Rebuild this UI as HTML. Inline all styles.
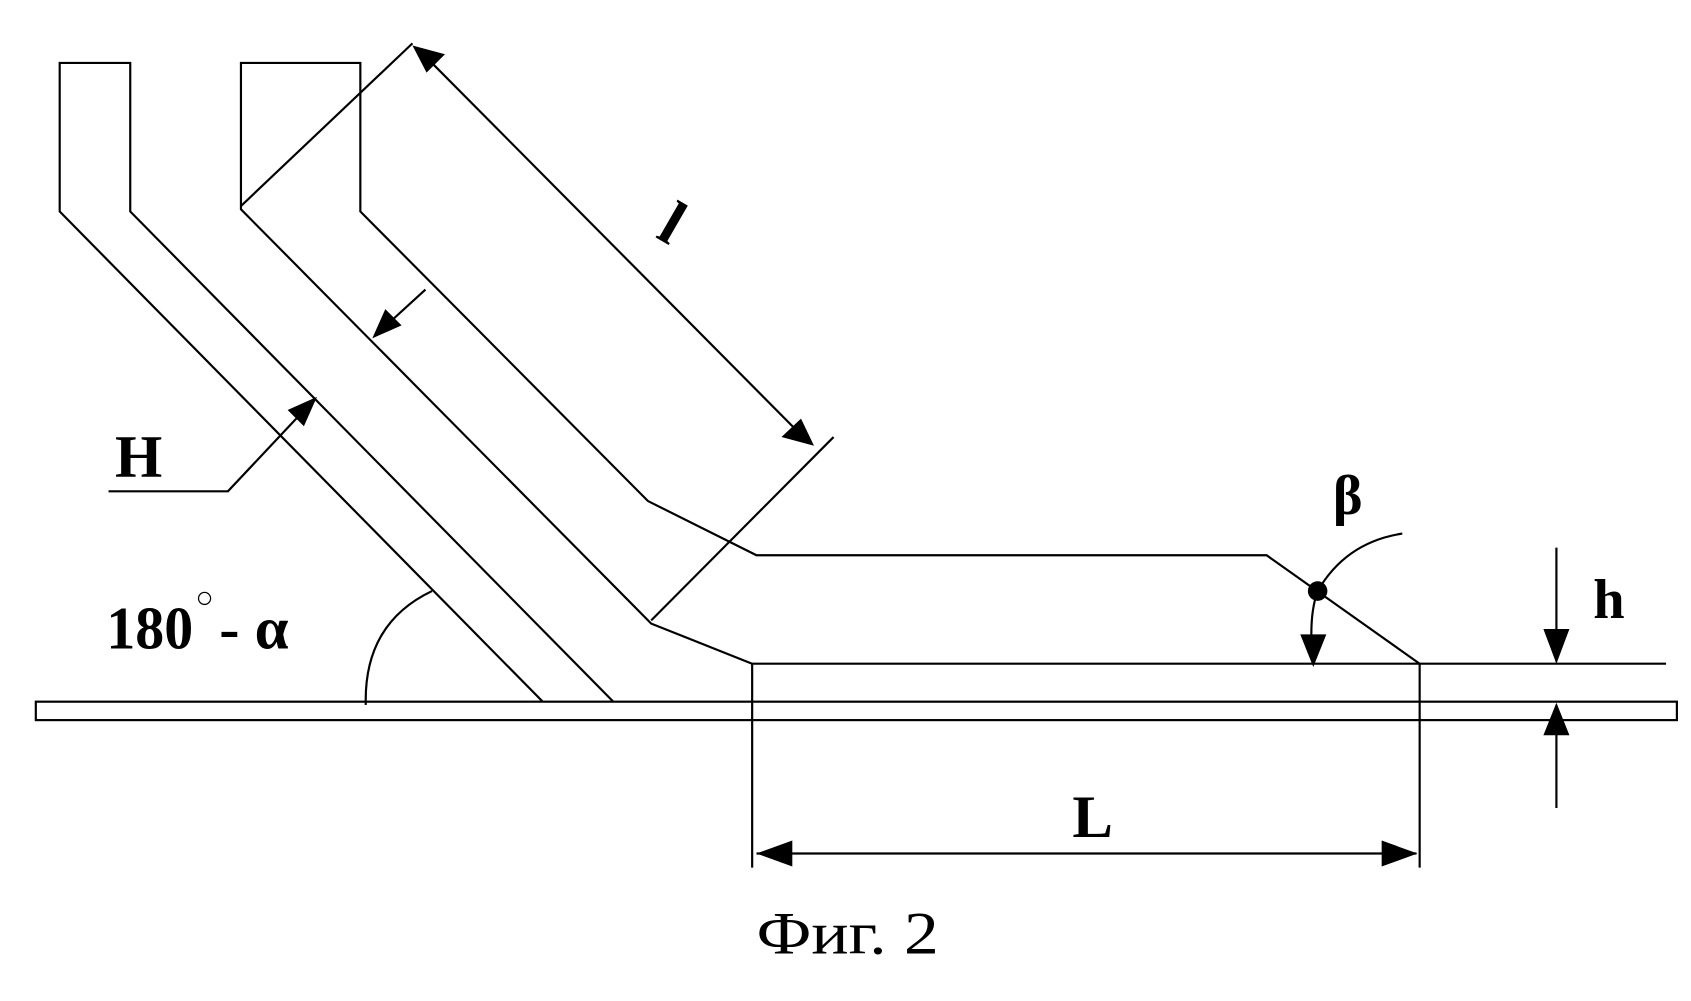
<!DOCTYPE html>
<html><head><meta charset="utf-8"><style>html,body{margin:0;padding:0;background:#fff}svg{display:block}</style></head>
<body>
<svg width="1691" height="1001" viewBox="0 0 1558 923" preserveAspectRatio="none" xmlns="http://www.w3.org/2000/svg">
<g fill="none" stroke="#000" stroke-width="2">
<polyline points="500,647 55,195 55,58 120,58 120,195 565,647"/>
<polyline points="693,612 600,575 222,193 222,58 332,58 332,195 597,462 697,512 1167,512 1308,612"/>
<rect x="33" y="647" width="1512" height="17"/>
<line x1="693" y1="612" x2="1535" y2="612"/>
<line x1="222" y1="190" x2="380" y2="40"/>
<line x1="600" y1="572" x2="768" y2="403"/>
<line x1="385" y1="45" x2="745" y2="408"/>
<line x1="345" y1="310" x2="392" y2="267"/>
<polyline points="100,453 210,453 288,370"/>
<path d="M337,650 Q335,575 398,545"/>
<path d="M1214,545 Q1240,500 1292,492"/>
<path d="M1214,545 Q1205,570 1210,612"/>
<line x1="1434" y1="505" x2="1434" y2="610"/>
<line x1="1434" y1="650" x2="1434" y2="745"/>
<line x1="693" y1="612" x2="693" y2="800"/>
<line x1="1308" y1="612" x2="1308" y2="800"/>
<line x1="697" y1="787" x2="1305" y2="787"/>
</g>
<g fill="#000">
<polygon points="380,42 410,50 393,67"/>
<polygon points="750,411 720,403 738,386"/>
<polygon points="343,312 355,285 370,300"/>
<polygon points="292,366 280,393 265,378"/>
<circle cx="1214" cy="545" r="9"/>
<polygon points="1210,615 1198,585 1222,585"/>
<polygon points="1434,612 1422,580 1446,580"/>
<polygon points="1434,648 1422,678 1446,678"/>
<polygon points="697,787 730,775 730,799"/>
<polygon points="1306,787 1273,775 1273,799"/>
</g>
<g font-family="Liberation Serif, serif" font-weight="bold" fill="#000">
<text x="612" y="225" font-size="58" transform="rotate(30 620 205)">l</text>
<text x="106" y="440" font-size="56">H</text>
<text x="98" y="598" font-size="56" textLength="80" lengthAdjust="spacingAndGlyphs">180</text>
<text x="180" y="560" font-size="28" font-weight="normal">○</text>
<text x="202" y="598" font-size="56">- α</text>
<text x="1228" y="474" font-size="52">β</text>
<text x="1468" y="570" font-size="52">h</text>
<text x="988" y="772" font-size="56">L</text>
</g>
<text x="697" y="879" font-family="Liberation Serif, serif" font-size="56" fill="#000" textLength="168" lengthAdjust="spacingAndGlyphs">Фиг. 2</text>
</svg>
</body></html>
